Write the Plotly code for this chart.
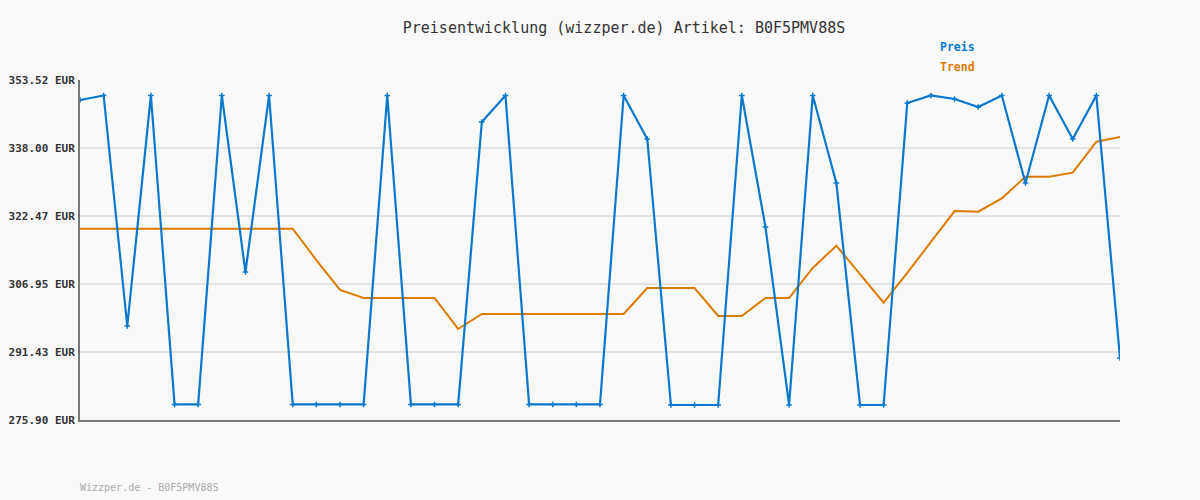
import plotly.graph_objects as go

# ---- data ----
idx = list(range(45))
preis = [348.95, 349.99, 297.36, 349.99, 279.45, 279.45, 349.99, 309.69, 349.99, 279.45,
         279.45, 279.45, 279.45, 349.99, 279.45, 279.45, 279.45, 343.93, 349.99, 279.45,
         279.45, 279.45, 279.45, 349.99, 340.05, 279.33, 279.33, 279.33, 349.99, 319.96,
         279.33, 349.99, 330.00, 279.33, 279.33, 348.27, 349.99, 349.18, 347.36, 349.99,
         330.00, 349.99, 340.05, 349.99, 290.06]
trend = [319.57, 319.57, 319.57, 319.57, 319.57, 319.57, 319.57, 319.57, 319.57, 319.57,
         312.40, 305.60, 303.75, 303.75, 303.75, 303.75, 296.68, 300.10, 300.10, 300.10,
         300.10, 300.10, 300.10, 300.10, 306.04, 306.04, 306.04, 299.65, 299.65, 303.75,
         303.75, 310.60, 315.70, 309.20, 302.70, 309.50, 316.50, 323.60, 323.45, 326.50,
         331.45, 331.45, 332.36, 339.43, 340.50]
tickvals = [275.90, 291.43, 306.95, 322.47, 338.00, 353.52]
ticktext = ["275.90 EUR", "291.43 EUR", "306.95 EUR", "322.47 EUR", "338.00 EUR", "353.52 EUR"]

BLUE = "#0a78cc"
ORANGE = "#dd7a00"
FONT = "DejaVu Sans Mono"

fig = go.Figure()
fig.add_trace(go.Scatter(x=idx, y=trend, mode="lines", name="Trend",
                         line=dict(color=ORANGE, width=2), showlegend=False,
                         hoverinfo="skip"))
fig.add_trace(go.Scatter(x=idx, y=preis, mode="lines+markers", name="Preis",
                         line=dict(color=BLUE, width=2.2),
                         marker=dict(symbol="cross-thin", size=4, color=BLUE,
                                     line=dict(color=BLUE, width=1.5)),
                         showlegend=False))

fig.update_layout(
    width=1200, height=500,
    paper_bgcolor="#f9f9f9", plot_bgcolor="#f9f9f9",
    margin=dict(l=80, r=80, t=80, b=80, autoexpand=False),
    font=dict(family=FONT, color="#333333"),
    title=dict(text="Preisentwicklung (wizzper.de) Artikel: B0F5PMV88S",
               x=0.52, xanchor="center", y=0.944, yanchor="middle",
               font=dict(family=FONT, size=15, color="#333333")),
    xaxis=dict(range=[0, 44], showgrid=False, zeroline=False, showticklabels=False,
               showline=True, linecolor="#777777", linewidth=2, ticks="",
               automargin=False),
    yaxis=dict(range=[275.90, 353.52], tickvals=tickvals, ticktext=ticktext,
               showgrid=True, gridcolor="#e3e3e3", gridwidth=2, zeroline=False,
               showline=True, linecolor="#777777", linewidth=2, ticks="",
               ticklabelstandoff=1, automargin=False,
               tickfont=dict(family=FONT, size=11, color="#333333", weight="bold")),
    hovermode=False,
)


def px_x(x):
    return (x - 80) / 1040


def px_y(y):
    return (420 - y) / 340


fig.add_annotation(text="<b>Preis</b>", x=px_x(938), y=px_y(47), xref="paper", yref="paper",
                   xanchor="left", yanchor="middle", showarrow=False,
                   font=dict(family=FONT, size=11.5, color=BLUE))
fig.add_annotation(text="<b>Trend</b>", x=px_x(938), y=px_y(67), xref="paper", yref="paper",
                   xanchor="left", yanchor="middle", showarrow=False,
                   font=dict(family=FONT, size=11.5, color=ORANGE))
fig.add_annotation(text="Wizzper.de - B0F5PMV88S", x=px_x(78), y=px_y(487), xref="paper", yref="paper",
                   xanchor="left", yanchor="middle", showarrow=False,
                   font=dict(family=FONT, size=10, color="#aaaaaa"))

fig.write_html("out.html", config={"displayModeBar": False},
               post_script="document.body.style.margin='0';document.body.style.padding='0';")
